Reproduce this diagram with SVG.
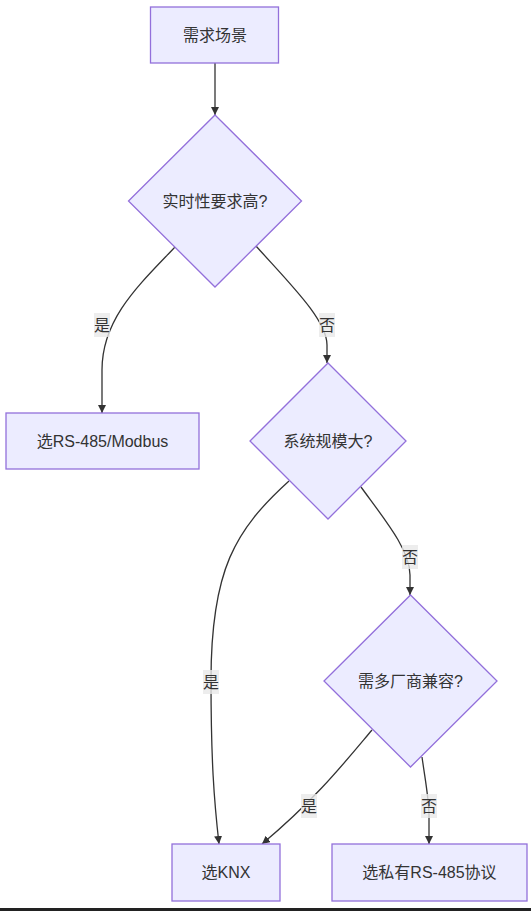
<svg xmlns="http://www.w3.org/2000/svg" width="531" height="911" viewBox="0 0 531 911">
<defs>
<style>
.node rect, .node polygon { fill: #ECECFF; stroke: #9370DB; stroke-width: 1.3; }
.t { font-family: "Liberation Sans", "Noto Sans CJK SC", sans-serif; font-size: 16px; fill: #333; text-anchor: middle; dominant-baseline: central; }
.edge { fill: none; stroke: #333; stroke-width: 1.3; }
.lb { fill: #e8e8e8; opacity: 0.8; }
</style>
<marker id="arr" viewBox="0 0 10 10" refX="10" refY="5" markerWidth="8" markerHeight="8" markerUnits="userSpaceOnUse" orient="auto">
<path d="M0,0 L10,5 L0,10 z" fill="#333"/>
</marker>
</defs>
<rect x="0" y="0" width="531" height="911" fill="#fff"/>
<g id="connectors">
<path class="edge" d="M215,63 L215,115" marker-end="url(#arr)"/>
<path class="edge" d="M176,246 C140,284 102,318 102,370 L102,413" marker-end="url(#arr)"/>
<path class="edge" d="M256,246 C290,284 327,320 327,345 L327,363" marker-end="url(#arr)"/>
<path class="edge" d="M289,481 C235,530 211,570 211,680 C211,760 214,800 219,844" marker-end="url(#arr)"/>
<path class="edge" d="M361,487 C385,520 410,550 410,575 L410,595" marker-end="url(#arr)"/>
<path class="edge" d="M372,730 C345,762 315,800 262,844" marker-end="url(#arr)"/>
<path class="edge" d="M422,757 C426,785 429,800 429,815 L429,844" marker-end="url(#arr)"/>
<rect class="lb" x="94" y="313" width="16" height="24"/>
<text class="t" x="102" y="325">是</text>
<rect class="lb" x="319" y="313" width="16" height="24"/>
<text class="t" x="327" y="325">否</text>
<rect class="lb" x="203" y="670" width="16" height="24"/>
<text class="t" x="211" y="682">是</text>
<rect class="lb" x="402" y="545" width="16" height="24"/>
<text class="t" x="410" y="557">否</text>
<rect class="lb" x="301" y="794" width="16" height="24"/>
<text class="t" x="309" y="806">是</text>
<rect class="lb" x="421" y="794" width="16" height="24"/>
<text class="t" x="429" y="806">否</text>
</g>
<g id="A" class="node">
<rect x="150.5" y="7" width="128" height="56"/>
<text class="t" x="215" y="35">需求场景</text>
</g>
<g id="B" class="node">
<polygon points="215,115 301.5,201 215,287 128.5,201"/>
<text class="t" x="215" y="201">实时性要求高?</text>
</g>
<g id="C" class="node">
<rect x="6" y="413" width="193" height="56"/>
<text class="t" x="102.5" y="441">选RS-485/Modbus</text>
</g>
<g id="D" class="node">
<polygon points="328,363 406,441 328,519 250,441"/>
<text class="t" x="328" y="441">系统规模大?</text>
</g>
<g id="E" class="node">
<polygon points="410.5,595 497,681 410.5,767 324,681"/>
<text class="t" x="410.5" y="681">需多厂商兼容?</text>
</g>
<g id="F" class="node">
<rect x="172" y="844" width="108" height="57"/>
<text class="t" x="226" y="872.5">选KNX</text>
</g>
<g id="G" class="node">
<rect x="332" y="844" width="195" height="57"/>
<text class="t" x="429.5" y="872.5">选私有RS-485协议</text>
</g>
<rect x="0" y="908" width="531" height="3" fill="#222"/>
</svg>
